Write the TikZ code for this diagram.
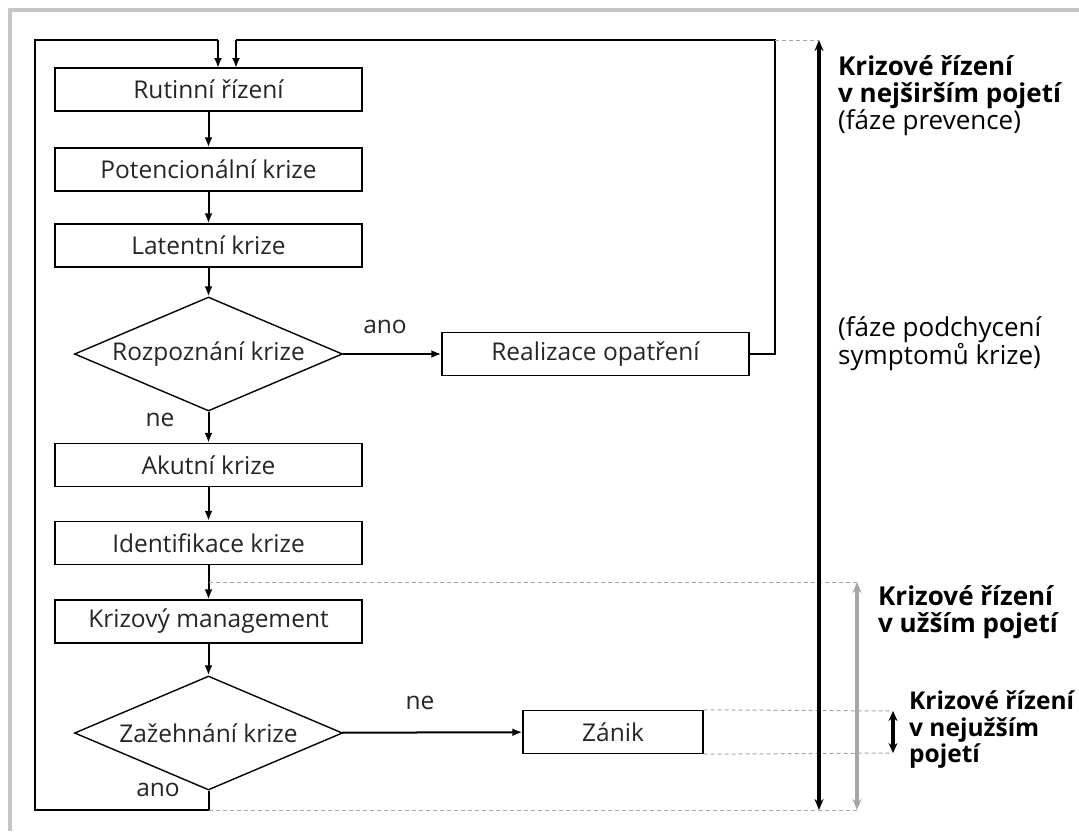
\documentclass[tikz,border=0pt]{standalone}
\usepackage{fontspec}
\setmainfont{Open Sans}
\usetikzlibrary{arrows.meta,shapes.geometric}
\begin{document}
\begin{tikzpicture}[x=1pt,y=-1pt,
  txt/.style={font=\fontsize{24.5}{28}\selectfont, text=black!85},
  stepbox/.style={draw, line width=1.4pt, minimum width=307pt, minimum height=43pt, inner sep=0pt, txt},
  decide/.style={draw, diamond, aspect=2.35, line width=1.4pt, minimum width=268pt, minimum height=114pt, inner sep=0pt, txt},
  flow/.style={line width=2pt, -{Latex[length=10pt,width=8pt]}},
  line/.style={line width=2pt},
  guide/.style={gray!70, line width=1pt, dash pattern=on 4pt off 3pt},
  side/.style={align=left, anchor=north west, font=\fontsize{26}{27}\selectfont, inner sep=0pt},
  lab/.style={txt, inner sep=0pt}
]
\useasboundingbox (0,0) rectangle (1079,831);
\fill[white] (0,0) rectangle (1079,831);
\draw[gray!45, line width=4pt] (8,10) -- (1079,10);
\draw[gray!45, line width=4pt] (10,8) -- (10,831);

\node[stepbox] (rut) at (208.5,89.5) {Rutinní řízení};
\node[stepbox] (pot) at (208.5,169.5) {Potencionální krize};
\node[stepbox] (lat) at (208.5,245.5) {Latentní krize};
\node[decide] (roz) at (208.5,354) {Rozpoznání krize};
\node[stepbox] (real) at (595.5,354) {Realizace opatření};
\node[stepbox] (aku) at (208.5,465) {Akutní krize};
\node[stepbox] (ide) at (208.5,543) {Identifikace krize};
\node[stepbox] (kri) at (208.5,621.5) {Krizový management};
\node[decide] (zaz) at (208.5,733) {Zažehnání krize};
\node[stepbox, minimum width=180pt] (zan) at (613,732) {Zánik};

\node[lab] (l1) at (385,327) {ano};
\node[lab] (l2) at (160,420) {ne};
\node[lab] (l3) at (420,703) {ne};
\node[lab] (l4) at (158,790) {ano};

\draw[flow] (rut) -- (pot);
\draw[flow] (pot) -- (lat);
\draw[flow] (lat) -- (roz);
\draw[flow] (roz) -- (aku);
\draw[flow] (roz) -- (real);
\draw[flow] (aku) -- (ide);
\draw[flow] (ide) -- (kri);
\draw[flow] (kri) -- (zaz);
\draw[flow] (zaz) -- (zan);

\coordinate (b1) at (208.5,810);
\coordinate (b2) at (35,810);
\coordinate (b3) at (35,40);
\coordinate (b4) at (218,40);
\coordinate (b5) at (218,68);
\draw[line, line join=miter] (zaz.south) -- (b1) -- (b2) -- (b3) -- (b4);
\draw[flow] (b4) -- (b5);

\coordinate (r1) at (775,354);
\coordinate (r2) at (775,40);
\coordinate (r3) at (236,40);
\coordinate (r4) at (236,68);
\draw[line, line join=miter] (real.east) -- (r1) -- (r2) -- (r3);
\draw[flow] (r3) -- (r4);

\coordinate (t1) at (819,40);
\coordinate (t2) at (819,810);
\coordinate (g0) at (208.5,582);
\coordinate (g1) at (857,582);
\coordinate (g2) at (857,810);
\coordinate (n1) at (893,711);
\coordinate (n2) at (893,753);

\draw[guide] (r2) -- (t1);
\draw[guide] (g0) -- (g1);
\draw[guide] (b1) -- (g2);
\draw[guide] (zan.north east) -- (n1);
\draw[guide] (zan.south east) -- (n2);

\draw[line width=3.4pt, {Stealth[length=11pt,width=9pt]}-{Stealth[length=11pt,width=9pt]}] (t1) -- (t2);
\draw[gray!70, line width=3.4pt, {Stealth[length=11pt,width=9pt]}-{Stealth[length=11pt,width=9pt]}] (g1) -- (g2);
\draw[line width=3.4pt, {Stealth[length=10pt,width=9pt]}-{Stealth[length=10pt,width=9pt]}] (n1) -- (n2);

\node[side] (s1) at (838,55) {\textbf{Krizové řízení}\\\textbf{v nejširším pojetí}\\(fáze prevence)};
\node[side] (s2) at (838,316) {(fáze podchycení\\symptomů krize)};
\node[side] (s3) at (878,585) {\textbf{Krizové řízení}\\\textbf{v užším pojetí}};
\node[side, font=\fontsize{24.5}{26.5}\selectfont] (s4) at (909,691) {\textbf{Krizové řízení}\\\textbf{v nejužším}\\\textbf{pojetí}};
\end{tikzpicture}
\end{document}
